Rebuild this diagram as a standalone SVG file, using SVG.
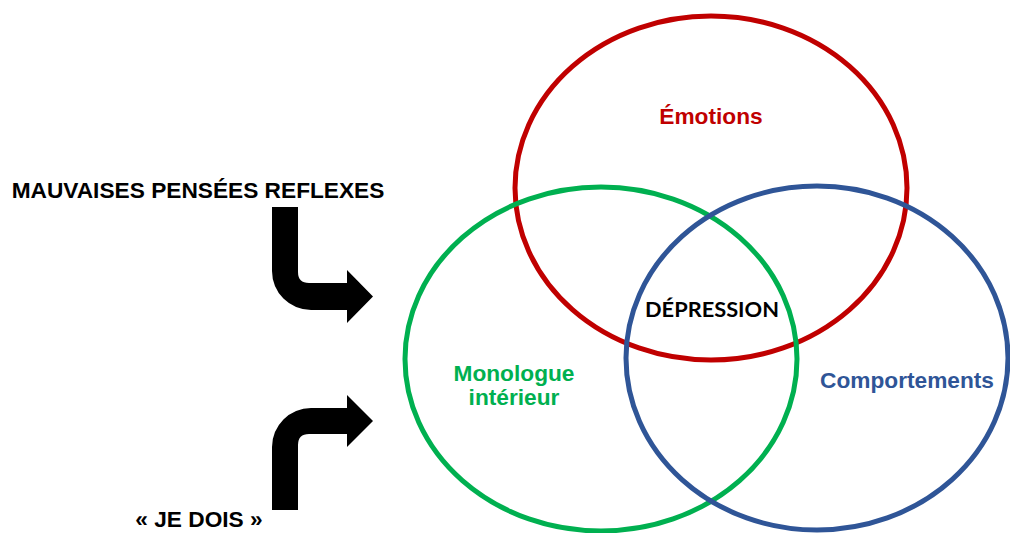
<svg xmlns="http://www.w3.org/2000/svg" width="1010" height="533" viewBox="0 0 1010 533">
  <style>
    .ring { fill: none; stroke-width: 5; }
    .lbl { font-family: "Liberation Sans", Arial, sans-serif; font-weight: bold; font-size: 22.7px; }
    .arrow { fill: #000; }
  </style>
  <rect width="1010" height="533" fill="#fff"/>

  <g id="emotions">
    <ellipse class="ring" cx="711" cy="188" rx="196" ry="172" stroke="#C00000"/>
    <text class="lbl" x="711" y="124" fill="#C00000" text-anchor="middle">Émotions</text>
  </g>

  <g id="monologue">
    <ellipse class="ring" cx="601" cy="359" rx="196" ry="172" stroke="#00B050"/>
    <text class="lbl" x="514" y="381" fill="#00B050" text-anchor="middle">Monologue</text>
    <text class="lbl" x="514" y="405" fill="#00B050" text-anchor="middle">intérieur</text>
  </g>

  <g id="comportements">
    <ellipse class="ring" cx="817" cy="358" rx="191" ry="172" stroke="#2F5597"/>
    <text class="lbl" x="907" y="388" fill="#2F5597" text-anchor="middle">Comportements</text>
  </g>

  <g id="depression">
    <text x="712" y="317" font-family="Lato, 'Open Sans', sans-serif" font-weight="bold" font-size="21.8" fill="#000" text-anchor="middle">DÉPRESSION</text>
  </g>

  <g id="pensees">
    <text class="lbl" x="198" y="198" fill="#000" text-anchor="middle">MAUVAISES PENSÉES REFLEXES</text>
  </g>

  <g id="je-dois">
    <text class="lbl" x="199" y="527" fill="#000" text-anchor="middle">« JE DOIS »</text>
  </g>

  <g id="connectors">
    <!-- bent arrow from the top label down and right -->
    <path class="arrow" d="M272,207 H298 V272 Q298,283 309,283 H347 V270 L373,296.5 L347,323 V310 H311 A39,39 0 0 1 272,271 Z"/>
    <!-- bent arrow from the bottom label up and right -->
    <path class="arrow" d="M272,510 V447 A39,39 0 0 1 311,408 H347 V395 L373,421 L347,447 V434 H309 Q298,434 298,445 V510 Z"/>
  </g>
</svg>
